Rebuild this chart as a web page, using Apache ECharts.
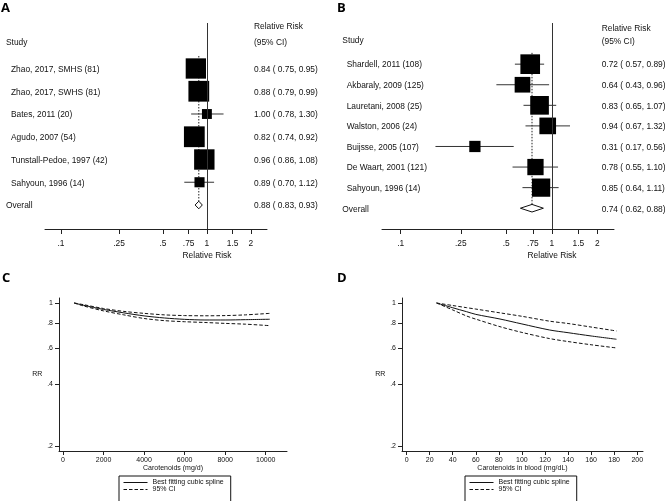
<!DOCTYPE html>
<html><head><meta charset="utf-8">
<script src="https://cdn.jsdelivr.net/npm/echarts@6/dist/echarts.min.js"></script>
<style>html,body{margin:0;padding:0;background:#fff}#c{width:669px;height:501px}</style>
</head><body><div id="c"></div><script>
// ---------- Data ----------
const forestTicks = [0.1, 0.25, 0.5, 0.75, 1, 1.5, 2];

const studiesA = ["Zhao, 2017, SMHS (81)", "Zhao, 2017, SWHS (81)", "Bates, 2011 (20)", "Agudo, 2007 (54)", "Tunstall-Pedoe, 1997 (42)", "Sahyoun, 1996 (14)"];
const rrA = [0.84, 0.88, 1.00, 0.82, 0.96, 0.89];
const loA = [0.75, 0.79, 0.78, 0.74, 0.86, 0.70];
const hiA = [0.95, 0.99, 1.30, 0.92, 1.08, 1.12];
const weightA = [21.8, 22.8, 5.2, 22.8, 22.0, 5.4];
const overallA = [0.88, 0.83, 0.93];

const studiesB = ["Shardell, 2011 (108)", "Akbaraly, 2009 (125)", "Lauretani, 2008 (25)", "Walston, 2006 (24)", "Buijsse, 2005 (107)", "De Waart, 2001 (121)", "Sahyoun, 1996 (14)"];
const rrB = [0.72, 0.64, 0.83, 0.94, 0.31, 0.78, 0.85];
const loB = [0.57, 0.43, 0.65, 0.67, 0.17, 0.55, 0.64];
const hiB = [0.89, 0.96, 1.07, 1.32, 0.56, 1.10, 1.11];
const weightB = [19.5, 12.4, 17.6, 14.0, 6.4, 13.4, 16.8];
const overallB = [0.74, 0.62, 0.88];

const rrTicks = [0.2, 0.4, 0.6, 0.8, 1];
const cTicks = [0, 2000, 4000, 6000, 8000, 10000];
const cX = [550, 1000, 2000, 3000, 4000, 5000, 6000, 7000, 8000, 9000, 10200];
const cFit = [1, 0.975, 0.93, 0.895, 0.865, 0.845, 0.832, 0.826, 0.826, 0.829, 0.833];
const cUpper = [1, 0.982, 0.94, 0.91, 0.89, 0.875, 0.868, 0.866, 0.868, 0.875, 0.89];
const cLower = [1, 0.968, 0.915, 0.875, 0.84, 0.82, 0.81, 0.803, 0.795, 0.788, 0.775];

const dTicks = [0, 20, 40, 60, 80, 100, 120, 140, 160, 180, 200];
const dX = [26, 40, 52, 60, 81, 100, 124, 140, 160, 182];
const dFit = [1, 0.948, 0.907, 0.88, 0.835, 0.79, 0.738, 0.716, 0.69, 0.665];
const dUpper = [1, 0.972, 0.949, 0.934, 0.895, 0.861, 0.815, 0.794, 0.763, 0.73];
const dLower = [1, 0.925, 0.864, 0.834, 0.766, 0.718, 0.67, 0.648, 0.625, 0.603];

// ---------- Helpers ----------
const FONT = "'Liberation Sans', Arial, Helvetica, sans-serif";
const TXT = '#111';
const fmtTick = v => String(v).replace(/^0\./, '.');
const fmtPlain = v => String(v);
const fmtCI = (r, l, h) => r.toFixed(2) + ' ( ' + l.toFixed(2) + ', ' + h.toFixed(2) + ')';
const zip = (xs, ys) => xs.map((x, i) => [x, ys[i]]);

function txt(x, y, text, size, align) {
  return { type: 'text', x: x, y: y, style: {
    text: text, fontSize: size, fontFamily: FONT, fill: TXT,
    align: align || 'left', textAlign: align || 'left', verticalAlign: 'middle', textVerticalAlign: 'middle'
  } };
}
function letter(x, y, t) {
  return { type: 'text', x: x, y: y, style: { text: t, font: "bold 13px 'Open Sans', Arial, sans-serif", fill: '#000',
    verticalAlign: 'middle', textVerticalAlign: 'middle' } };
}

function studyRender(labels, k, labelOff, rrOff) {
  return function (params, api) {
    const i = api.value(0), rr = api.value(1), lo = api.value(2), hi = api.value(3), w = api.value(4);
    const c = api.coord([rr, i]);
    const pl = api.coord([lo, i]);
    const ph = api.coord([hi, i]);
    const s = k * Math.sqrt(w);
    const cs = params.coordSys;
    return { type: 'group', children: [
      { type: 'line', shape: { x1: pl[0], y1: c[1], x2: ph[0], y2: c[1] }, style: { stroke: '#333', lineWidth: 1 } },
      { type: 'rect', shape: { x: c[0] - s / 2, y: c[1] - s / 2, width: s, height: s }, style: { fill: '#000' } },
      txt(cs.x - labelOff, c[1] + 1, labels[params.dataIndex], 8.4, 'left'),
      txt(cs.x + cs.width - rrOff, c[1] + 1, fmtCI(rr, lo, hi), 8.4, 'left')
    ] };
  };
}

function overallRender(labelOff, rrOff) {
  return function (params, api) {
    const row = api.value(0), rr = api.value(1), lo = api.value(2), hi = api.value(3);
    const c = api.coord([rr, row]);
    const pl = api.coord([lo, row]);
    const ph = api.coord([hi, row]);
    const top = api.coord([rr, -0.55]);
    const h = 3.8;
    const cs = params.coordSys;
    return { type: 'group', children: [
      { type: 'line', shape: { x1: c[0], y1: top[1], x2: c[0], y2: c[1] - h }, style: { stroke: '#222', lineWidth: 1, lineDash: [1.5, 1.5] } },
      { type: 'polygon', shape: { points: [[pl[0], c[1]], [c[0], c[1] - h], [ph[0], c[1]], [c[0], c[1] + h]] }, style: { fill: '#fff', stroke: '#111', lineWidth: 1 } },
      txt(cs.x - labelOff, c[1] + 1, 'Overall', 8.4, 'left'),
      txt(cs.x + cs.width - rrOff, c[1] + 1, fmtCI(rr, lo, hi), 8.4, 'left')
    ] };
  };
}

function forestX(gi) {
  return {
    type: 'log', gridIndex: gi, min: gi === 0 ? 0.0778 : 0.0753, max: 2.58,
    axisLine: { show: true, onZero: false, lineStyle: { color: '#222', width: 1 } },
    axisTick: { show: true, length: 5, customValues: forestTicks, lineStyle: { color: '#222' } },
    axisLabel: { customValues: forestTicks, formatter: fmtTick, fontSize: 8.4, fontFamily: FONT, color: TXT, margin: 11 },
    splitLine: { show: false }, minorTick: { show: false }
  };
}
function forestY(gi, max) {
  return { type: 'value', gridIndex: gi, min: -2, max: max, inverse: true, show: false };
}
function curveX(gi, min, max, ticks, name) {
  return {
    type: 'value', gridIndex: gi, min: min, max: max, name: name, nameLocation: 'middle', nameGap: 12,
    nameTextStyle: { fontSize: 7, fontFamily: FONT, color: TXT },
    axisLine: { show: true, onZero: false, lineStyle: { color: '#222', width: 1 } },
    axisTick: { show: true, length: 4, customValues: ticks, lineStyle: { color: '#222' } },
    axisLabel: { customValues: ticks, formatter: fmtPlain, fontSize: 7, fontFamily: FONT, color: TXT, margin: 6 },
    splitLine: { show: false }
  };
}
function curveY(gi) {
  return {
    type: 'log', gridIndex: gi, min: 0.189, max: 1.058, name: 'RR', nameLocation: 'middle', nameGap: 14, nameRotate: 0,
    nameTextStyle: { fontSize: 7, fontFamily: FONT, color: TXT },
    axisLine: { show: true, onZero: false, lineStyle: { color: '#222', width: 1 } },
    axisTick: { show: true, length: 4, customValues: rrTicks, lineStyle: { color: '#222' } },
    axisLabel: { customValues: rrTicks, formatter: fmtTick, fontSize: 7, fontFamily: FONT, color: TXT, margin: 6 },
    splitLine: { show: false }, minorTick: { show: false }
  };
}
function lineSeries(gi, name, xs, ys, dashed) {
  return {
    type: 'line', name: name, xAxisIndex: gi, yAxisIndex: gi, data: zip(xs, ys),
    symbol: 'none', smooth: 0.3, silent: true, color: '#111',
    lineStyle: { color: '#111', width: 1, type: dashed ? [3.5, 2] : 'solid' }
  };
}
function legendAt(left) {
  return {
    left: left, top: 476, height: 40, orient: 'vertical', itemWidth: 24, itemHeight: 7, itemGap: 0,
    padding: [3, 7, 14, 4], borderColor: '#111', borderWidth: 1, borderRadius: 0,
    itemStyle: { opacity: 0 }, lineStyle: { width: 1 }, selectedMode: false,
    textStyle: { fontSize: 7, fontFamily: FONT, color: TXT },
    data: ['Best fitting cubic spline', '95% CI']
  };
}

const chart = echarts.init(document.getElementById('c'), null, { renderer: 'canvas' });
const vline = { silent: true, symbol: 'none', label: { show: false }, lineStyle: { color: '#333', width: 1, type: 'solid' }, data: [{ xAxis: 1 }] };

chart.setOption({
  animation: false,
  backgroundColor: '#fff',
  grid: [
    { left: 45, top: 23, width: 222, height: 206 },
    { left: 382, top: 23, width: 232, height: 206 },
    { left: 59, top: 298, width: 228, height: 153 },
    { left: 402, top: 298, width: 241, height: 153 }
  ],
  xAxis: [forestX(0), forestX(1), curveX(2, -200, 11050, cTicks, 'Carotenoids (mg/d)'), curveX(3, -4, 205, dTicks, 'Carotenoids in blood (mg/dL)')],
  yAxis: [forestY(0, 7.055), forestY(1, 8.01), curveY(2), curveY(3)],
  legend: [legendAt(119), legendAt(465)],
  series: [
    { type: 'custom', xAxisIndex: 0, yAxisIndex: 0, clip: false, silent: true, renderItem: overallRender(39, 13),
      encode: { x: 1, y: 0 }, data: [[studiesA.length, overallA[0], overallA[1], overallA[2]]], markLine: vline, z: 2 },
    { type: 'custom', xAxisIndex: 0, yAxisIndex: 0, clip: false, silent: true, renderItem: studyRender(studiesA, 4.35, 34, 13),
      encode: { x: 1, y: 0 }, data: studiesA.map((s, i) => [i, rrA[i], loA[i], hiA[i], weightA[i]]), z: 3 },
    { type: 'custom', xAxisIndex: 1, yAxisIndex: 1, clip: false, silent: true, renderItem: overallRender(39.7, 12.3),
      encode: { x: 1, y: 0 }, data: [[studiesB.length, overallB[0], overallB[1], overallB[2]]], markLine: vline, z: 2 },
    { type: 'custom', xAxisIndex: 1, yAxisIndex: 1, clip: false, silent: true, renderItem: studyRender(studiesB, 4.45, 35.3, 12.3),
      encode: { x: 1, y: 0 }, data: studiesB.map((s, i) => [i, rrB[i], loB[i], hiB[i], weightB[i]]), z: 3 },
    lineSeries(2, 'Best fitting cubic spline', cX, cFit, false),
    lineSeries(2, '95% CI', cX, cUpper, true),
    lineSeries(2, '95% CI', cX, cLower, true),
    lineSeries(3, 'Best fitting cubic spline', dX, dFit, false),
    lineSeries(3, '95% CI', dX, dUpper, true),
    lineSeries(3, '95% CI', dX, dLower, true)
  ],
  graphic: [
    letter(1, 8, 'A'), letter(337, 8, 'B'), letter(2, 278, 'C'), letter(337, 278, 'D'),
    txt(6, 42.5, 'Study', 8.4), txt(254, 27, 'Relative Risk', 8.4), txt(254, 42.5, '(95% CI)', 8.4),
    txt(342.3, 41, 'Study', 8.4), txt(601.7, 28.5, 'Relative Risk', 8.4), txt(601.7, 41.5, '(95% CI)', 8.4),
    txt(207, 255.5, 'Relative Risk', 8.4, 'center'), txt(552, 255.5, 'Relative Risk', 8.4, 'center')
  ]
});
</script></body></html>
